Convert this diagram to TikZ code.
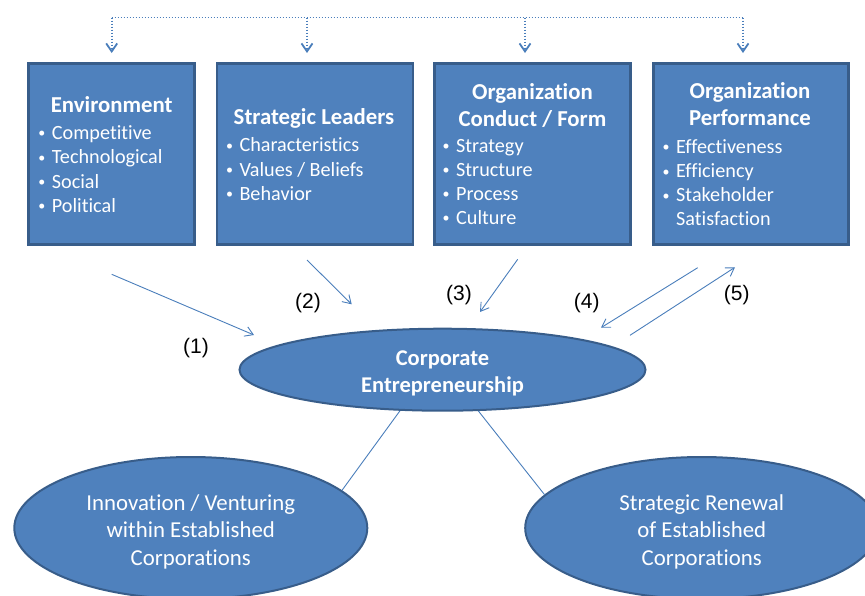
\documentclass[tikz,border=0pt]{standalone}
\usepackage{fontspec}
\setmainfont{Carlito}[Ligatures=NoCommon]
\newfontfamily\labelfont{Liberation Sans}
\usetikzlibrary{arrows.meta,shapes.geometric}
\definecolor{boxfill}{HTML}{4F81BD}
\definecolor{boxline}{HTML}{385D8A}
\definecolor{arrowblue}{HTML}{4A7EBB}
\newcommand\itembullet{\makebox[20pt][c]{\raisebox{1.6pt}{\fontsize{14}{14}\selectfont •}}}
\newcommand\itemgap{\makebox[20pt][c]{}}
\begin{document}
\begin{tikzpicture}[x=1pt,y=-1pt,
  box/.style={draw=boxline, fill=boxfill, line width=2.5pt, minimum height=181pt, inner sep=0pt},
  title/.style={font=\fontsize{22.8}{27}\selectfont\bfseries, text=white, anchor=base, inner sep=0pt},
  item/.style={font=\fontsize{20.2}{24}\selectfont, text=white, anchor=base west, inner sep=0pt},
  oval/.style={ellipse, draw=boxline, fill=boxfill, line width=2pt, inner sep=0pt},
  ovaltext/.style={text=white, align=center, inner sep=0pt, font=\fontsize{22.8}{27.5}\selectfont},
  link/.style={draw=arrowblue, line width=0.9pt},
  flow/.style={link, -{Straight Barb[length=8pt,width=10pt]}},
  feed/.style={draw=arrowblue, line width=1.8pt, dash pattern=on 1.6pt off 1.4pt},
  num/.style={font=\labelfont\fontsize{21}{25}\selectfont, inner sep=0pt}
]
\useasboundingbox (0,0) rectangle (865,595);

% boxes
\node[box, minimum width=166pt] (env) at (111.7,154.2) {};
\node[box, minimum width=196pt] (lead) at (315,154.2) {};
\node[box, minimum width=196pt] (conduct) at (532.5,154.2) {};
\node[box, minimum width=195pt] (perf) at (750.8,154.2) {};

% box texts
\node[title] (envT) at (111.7,112.3) {Environment};
\node[item] (env1) at (31.7,139.3) {\itembullet Competitive};
\node[item] (env2) at (31.7,163.8) {\itembullet Technological};
\node[item] (env3) at (31.7,188.1) {\itembullet Social};
\node[item] (env4) at (31.7,212.3) {\itembullet Political};

\node[title] (leadT) at (314,124.5) {Strategic Leaders};
\node[item] (lead1) at (219.3,151.7) {\itembullet Characteristics};
\node[item] (lead2) at (219.3,176) {\itembullet Values / Beliefs};
\node[item] (lead3) at (219.3,200.2) {\itembullet Behavior};

\node[title] (condT1) at (532.5,99.3) {Organization};
\node[title] (condT2) at (532.5,126.7) {Conduct / Form};
\node[item] (cond1) at (436,152.3) {\itembullet Strategy};
\node[item] (cond2) at (436,176.3) {\itembullet Structure};
\node[item] (cond3) at (436,200.3) {\itembullet Process};
\node[item] (cond4) at (436,224.3) {\itembullet Culture};

\node[title] (perfT1) at (750,98.5) {Organization};
\node[title] (perfT2) at (750,125) {Performance};
\node[item] (perf1) at (656,153.3) {\itembullet Effectiveness};
\node[item] (perf2) at (656,177.8) {\itembullet Efficiency};
\node[item] (perf3) at (656,201.7) {\itembullet Stakeholder};
\node[item] (perf4) at (656,225.7) {\itemgap Satisfaction};

% feedback dotted line
\coordinate (d1) at (111.7,17.5);
\coordinate (d2) at (307,17.5);
\coordinate (d3) at (525,17.5);
\coordinate (d4) at (743,17.5);
\coordinate (t1) at (111.7,53);
\coordinate (t2) at (307,53);
\coordinate (t3) at (525,53);
\coordinate (t4) at (743,53);
\draw[feed] (d1) -- (d4);
\foreach \i in {1,...,4}
  \draw[feed, -{Straight Barb[length=8pt,width=11pt]}] (d\i) -- (t\i);

% central and outcome ellipses
\node[oval, minimum width=406pt, minimum height=82pt] (ce) at (442.5,369.7) {};
\node[ovaltext, font=\fontsize{22.5}{27.3}\selectfont\bfseries] (ceT) at (442.5,373.2) {Corporate\\Entrepreneurship};
\node[oval, minimum width=353pt, minimum height=142pt] (li) at (190.8,528) {};
\node[ovaltext] (liT) at (190.8,531.5) {Innovation / Venturing\\within Established\\Corporations};
\node[oval, minimum width=353pt, minimum height=142pt] (ri) at (701.7,528) {};
\node[ovaltext] (riT) at (701.7,531.5) {Strategic Renewal\\of Established\\Corporations};

\draw[link] (li.14) -- (ce.224);
\draw[link] (ri.168) -- (ce.311);

% influence arrows
\coordinate (a1s) at (111.7,274.3);
\coordinate (a1e) at (254,335);
\coordinate (a2s) at (307,260);
\coordinate (a2e) at (351.7,304.3);
\coordinate (a3s) at (517.7,259.3);
\coordinate (a3e) at (480,312);
\coordinate (a4s) at (697.7,267.7);
\coordinate (a4e) at (601,327.7);
\coordinate (a5s) at (630,335.3);
\coordinate (a5e) at (735,267.3);
\draw[flow] (a1s) -- (a1e);
\draw[flow] (a2s) -- (a2e);
\draw[flow] (a3s) -- (a3e);
\draw[flow] (a4s) -- (a4e);
\draw[flow] (a5s) -- (a5e);

% labels
\node[num] (n1) at (196,348) {(1)};
\node[num] (n2) at (308,303) {(2)};
\node[num] (n3) at (459,295) {(3)};
\node[num] (n4) at (586.7,303) {(4)};
\node[num] (n5) at (736.7,295) {(5)};
\end{tikzpicture}
\end{document}
